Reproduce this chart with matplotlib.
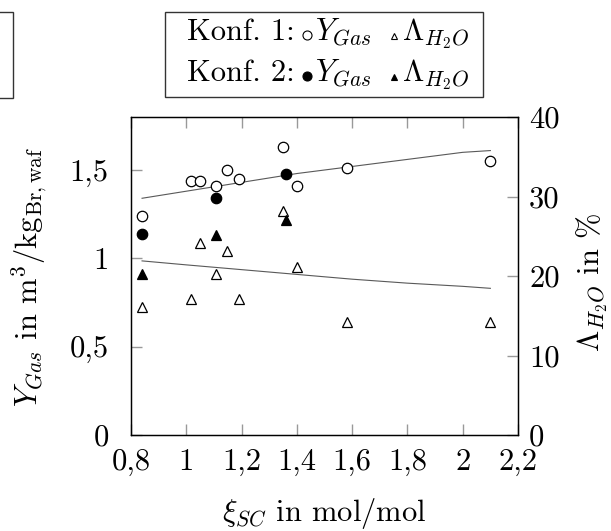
import numpy as np
import matplotlib
matplotlib.use('Agg')
from matplotlib import pyplot as plt
from matplotlib.lines import Line2D
from matplotlib.patches import Rectangle

# values
xiKonf1 = [0.84, 1.017, 1.05, 1.109, 1.148, 1.19, 1.349, 1.40, 1.58, 2.10]
yGasKonf1 = [1.24, 1.44, 1.44, 1.41, 1.50, 1.45, 1.63, 1.41, 1.51, 1.55]
xiLamKonf1 = [0.84, 1.017, 1.05, 1.109, 1.148, 1.19, 1.35, 1.40, 1.58, 2.10]
lamKonf1 = [16.1, 17.1, 24.1, 20.2, 23.1, 17.1, 28.2, 21.1, 14.2, 14.2]

xiKonf2 = [0.84, 1.109, 1.36]
yGasKonf2 = [1.14, 1.34, 1.48]
lamKonf2 = [20.2, 25.1, 27.1]

xiFit = [0.84, 1.0, 1.2, 1.4, 1.6, 1.8, 2.0, 2.1]
yGasFit = [1.34, 1.38, 1.43, 1.48, 1.52, 1.56, 1.60, 1.61]
lamFit = [21.9, 21.4, 20.8, 20.2, 19.6, 19.1, 18.7, 18.45]

xTicks = [0.8, 1.0, 1.2, 1.4, 1.6, 1.8, 2.0, 2.2]
xTickLabels = ['0,8', '1', '1,2', '1,4', '1,6', '1,8', '2', '2,2']
yTicks = [0, 0.5, 1.0, 1.5]
yTickLabels = ['0', '0,5', '1', '1,5']
lamTicks = [0, 10, 20, 30, 40]
lamTickLabels = ['0', '10', '20', '30', '40']

W, H = 611, 531


def main():
    plt.rcParams['font.family'] = 'serif'
    plt.rcParams['font.serif'] = ['cmr10']
    plt.rcParams['mathtext.fontset'] = 'cm'
    plt.rcParams['axes.unicode_minus'] = False
    plt.rcParams['font.size'] = 22

    fig = plt.figure(figsize=(W / 100, H / 100), dpi=100)
    ax = fig.add_axes([131 / W, 1 - 435 / H, (518 - 131) / W, (435 - 117) / H])
    ax2 = ax.twinx()

    # Y_Gas on the left axis
    ax.plot(xiFit, yGasFit, color='0.35', lw=0.8)
    ax.plot(xiKonf1, yGasKonf1, ls='none', marker='o', ms=7.5, mfc='white', mec='black', mew=0.9)
    ax.plot(xiKonf2, yGasKonf2, ls='none', marker='o', ms=7.5, mfc='black', mec='black', mew=0.9)

    # Lambda on the right axis
    ax2.plot(xiFit, lamFit, color='0.35', lw=0.8)
    ax2.plot(xiLamKonf1, lamKonf1, ls='none', marker='^', ms=7, mfc='white', mec='black', mew=0.9)
    ax2.plot(xiKonf2, lamKonf2, ls='none', marker='^', ms=7, mfc='black', mec='black', mew=0.9)

    ax.set_xlim(0.8, 2.2)
    ax.set_ylim(0, 1.8)
    ax2.set_ylim(0, 40)

    ax.set_xticks(xTicks, xTickLabels)
    ax.set_yticks(yTicks, yTickLabels)
    ax2.set_yticks(lamTicks, lamTickLabels)

    ax.tick_params(axis='x', direction='in', length=8, width=1, color='0.6', top=True, pad=10)
    ax.tick_params(axis='y', direction='in', length=8, width=1, color='0.6', right=False, pad=16)
    ax2.tick_params(axis='y', direction='in', length=8, width=1, color='0.6', pad=8)
    for a in (ax, ax2):
        for sp in a.spines.values():
            sp.set_linewidth(0.9)

    # axis labels
    fig.text(30 / W, 1 - 277 / H, r'$Y_{Gas}$ in m$^3$/kg$_{\mathrm{Br,waf}}$',
             rotation=90, ha='center', va='center')
    fig.text(592 / W, 1 - 283 / H, r'$\Lambda_{H_2O}$ in %', rotation=90, ha='center', va='center')
    fig.text(324 / W, 1 - 521 / H, r'$\xi_{SC}$ in mol/mol', ha='center', va='baseline')

    # legend box built by hand
    fig.add_artist(Rectangle((165 / W, 1 - 97 / H), (483 - 165) / W, 85 / H,
                             transform=fig.transFigure, fill=False, ec='0.2', lw=1))
    fig.add_artist(Rectangle((-10 / W, 1 - 98 / H), 23 / W, 86 / H,
                             transform=fig.transFigure, fill=False, ec='0.2', lw=1))
    rows = [('Konf. 1:', 40, 'white'), ('Konf. 2:', 81, 'black')]
    for label, base, fill in rows:
        fig.text(295 / W, 1 - base / H, label, ha='right', va='baseline')
        fig.add_artist(Line2D([307 / W], [1 - (base - 5) / H], transform=fig.transFigure,
                              marker='o', ms=6.5, mfc=fill, mec='black', mew=0.8))
        fig.text(315 / W, 1 - base / H, r'$Y_{Gas}$', ha='left', va='baseline')
        fig.add_artist(Line2D([394 / W], [1 - (base - 4) / H], transform=fig.transFigure,
                              marker='^', ms=5, mfc=fill, mec='black', mew=0.8))
        fig.text(402 / W, 1 - base / H, r'$\Lambda_{H_2O}$', ha='left', va='baseline')

    fig.savefig('out.png', dpi=100)


if __name__ == '__main__':
    main()
